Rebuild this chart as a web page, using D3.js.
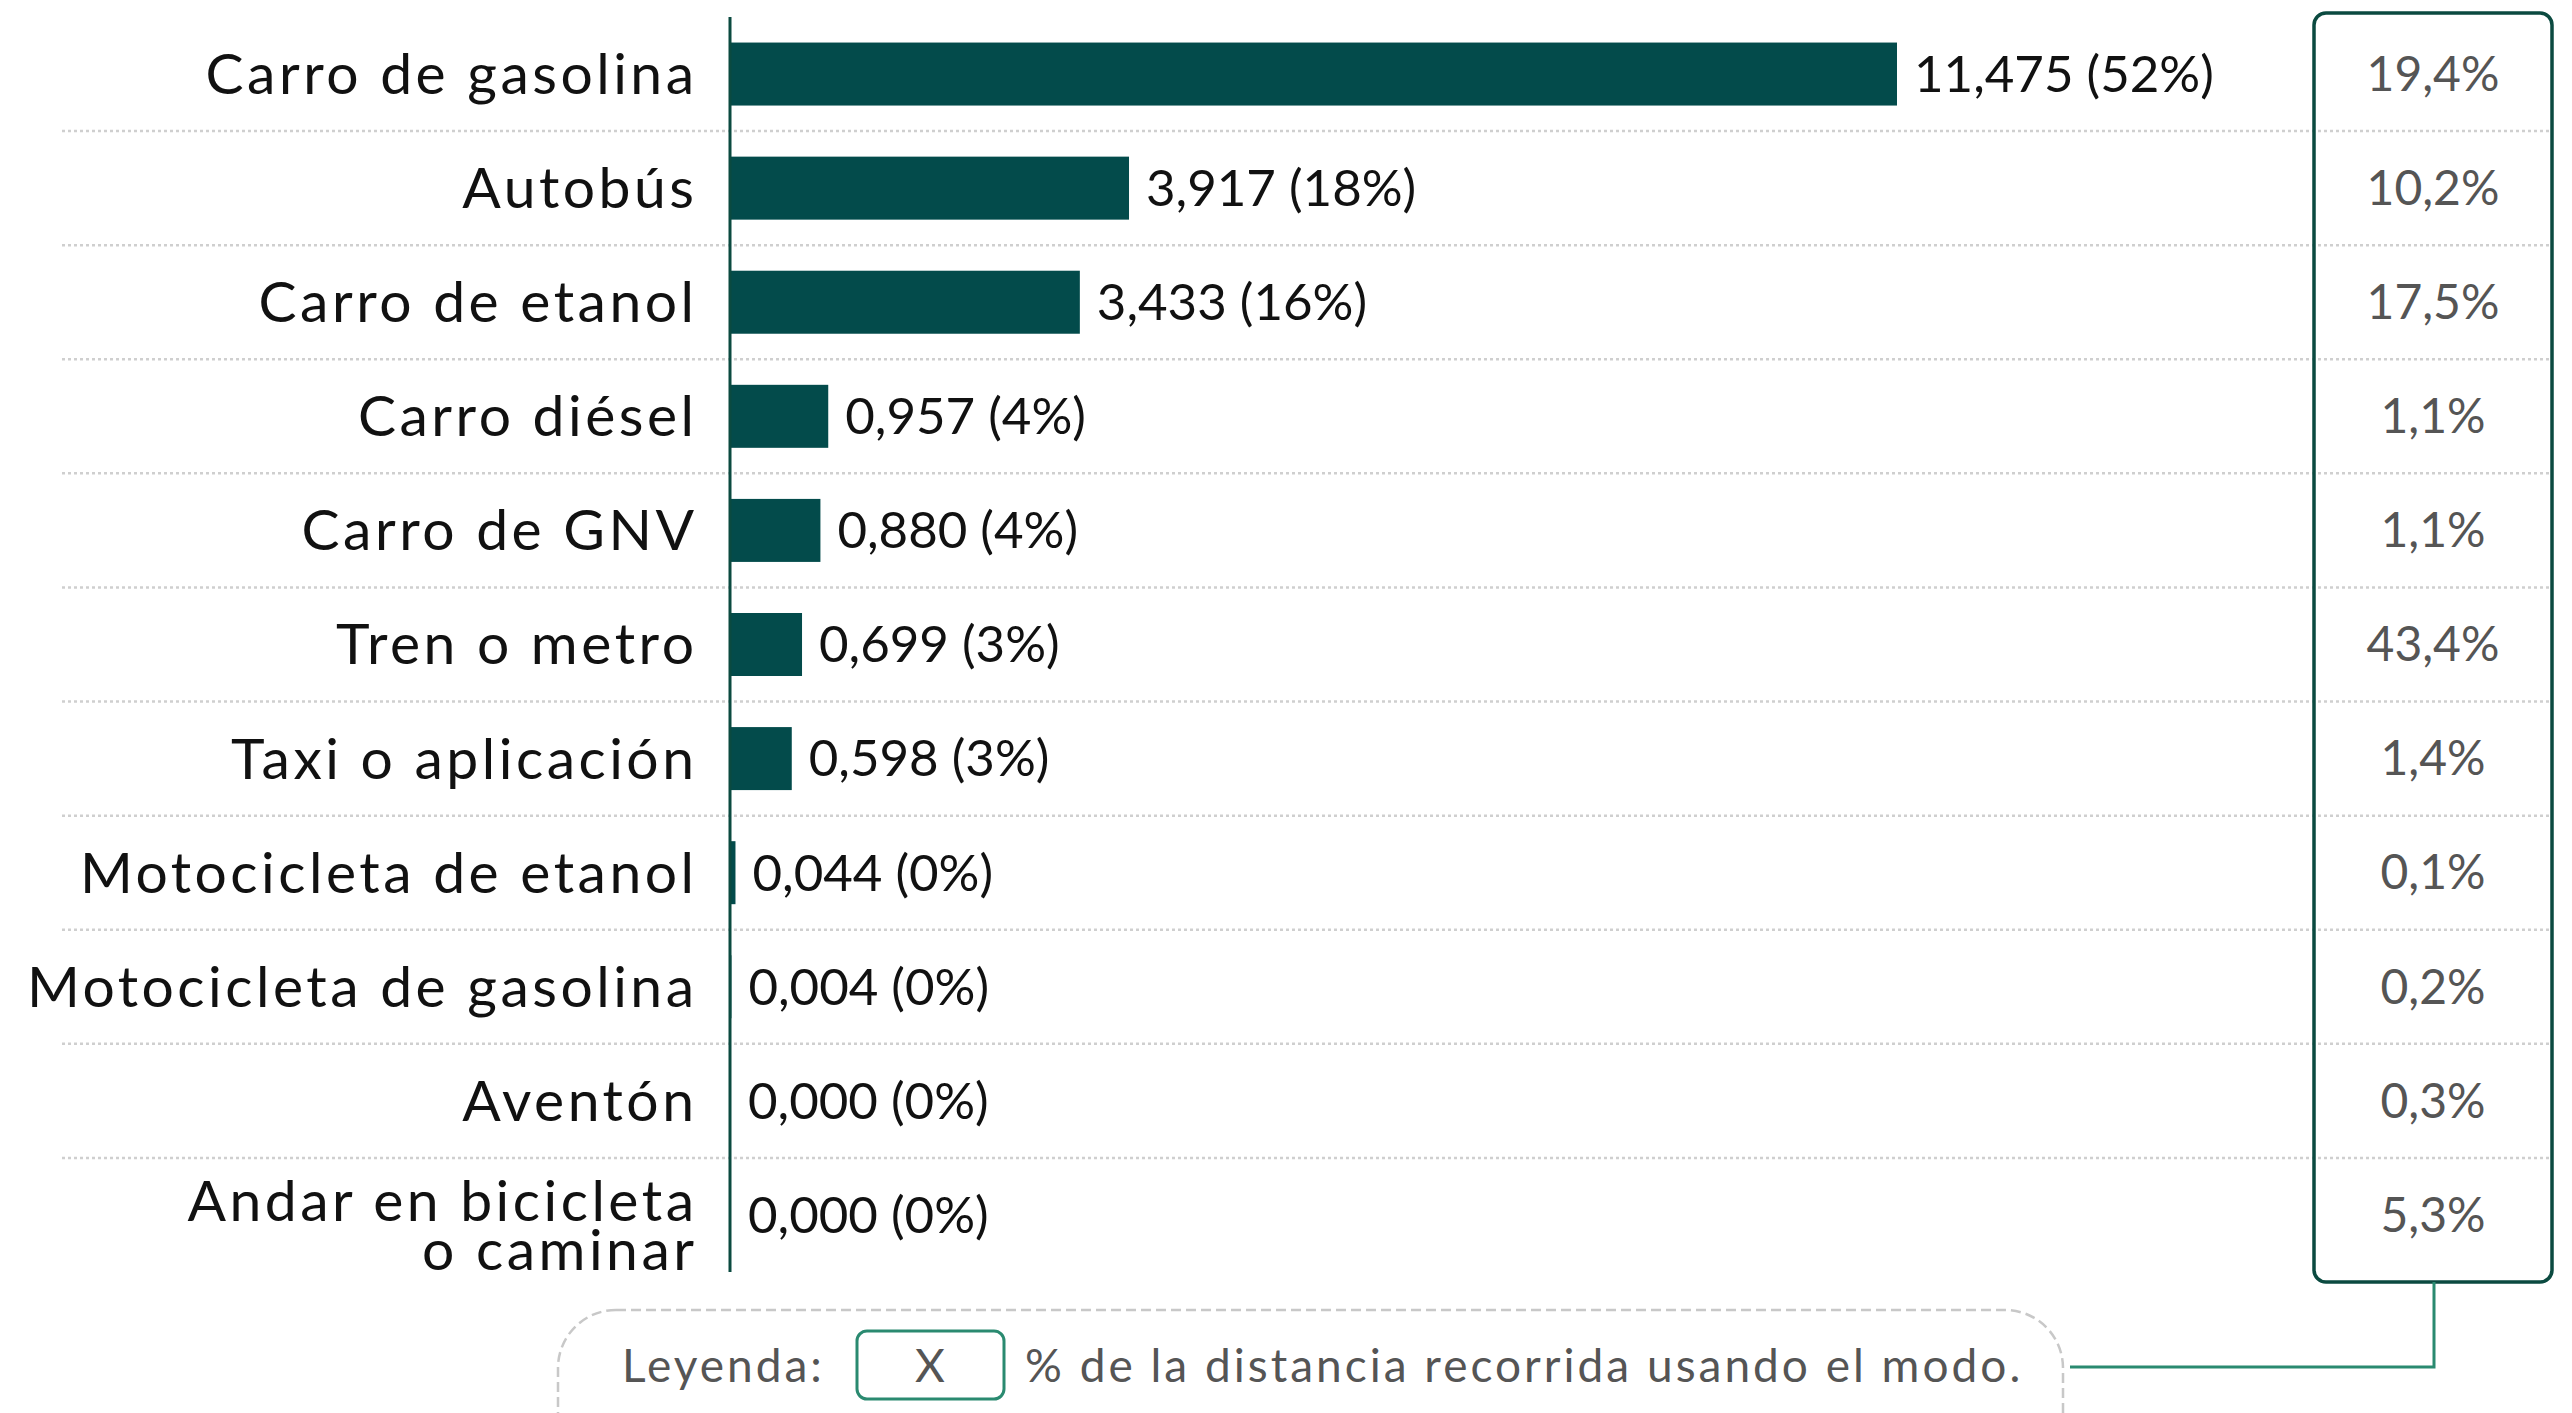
<!DOCTYPE html>
<html>
<head>
<meta charset="utf-8">
<script src="https://cdn.jsdelivr.net/npm/d3@7"></script>
<style>
  html, body { margin: 0; padding: 0; background: #fff; }
  svg { display: block; }
</style>
</head>
<body>
<svg id="chart" width="2572" height="1413"></svg>
<script>
const categories = ["Carro de gasolina", "Autobús", "Carro de etanol", "Carro diésel", "Carro de GNV",
  "Tren o metro", "Taxi o aplicación", "Motocicleta de etanol", "Motocicleta de gasolina", "Aventón",
  "Andar en bicicleta\no caminar"];
const values = [11.475, 3.917, 3.433, 0.957, 0.880, 0.699, 0.598, 0.044, 0.004, 0.000, 0.000];
const shares = [52, 18, 16, 4, 4, 3, 3, 0, 0, 0, 0];
const distanceShares = [19.4, 10.2, 17.5, 1.1, 1.1, 43.4, 1.4, 0.1, 0.2, 0.3, 5.3];
const legendLabel = "Leyenda:";
const legendKey = "X";
const legendText = "% de la distancia recorrida usando el modo.";

const locale = d3.formatLocale({decimal: ",", thousands: ".", grouping: [3], currency: ["", ""]});
const fmt3 = locale.format(".3f");
const fmt1 = locale.format(".1f");

const FONT = "Lato, 'Open Sans', sans-serif";
const svg = d3.select("#chart");
const data = categories.map((c, i) => ({cat: c, v: values[i], s: shares[i], d: distanceShares[i]}));

const axisX = 731;
const x = d3.scaleLinear().domain([0, 11.475]).range([axisX, 1897]);
const y = d3.scaleBand().domain(categories).range([17, 1272]).paddingInner(0).paddingOuter(0);
const barH = 63;

// separators
const seps = categories.slice(1);
svg.append("g").selectAll("line").data(seps).join("line")
  .attr("x1", 62).attr("x2", 2551)
  .attr("y1", d => y(d)).attr("y2", d => y(d))
  .attr("stroke", "#cfcfcf").attr("stroke-width", 2.5).attr("stroke-dasharray", "3,3");

// right box
const boxX0 = 2314, boxX1 = 2552, boxY0 = 13, boxY1 = 1282;
svg.append("rect").attr("x", boxX0).attr("y", boxY0)
  .attr("width", boxX1 - boxX0).attr("height", boxY1 - boxY0)
  .attr("rx", 12).attr("fill", "none").attr("stroke", "#0b4a40").attr("stroke-width", 3.5);

// bars
svg.append("g").selectAll("rect").data(data).join("rect")
  .attr("x", axisX)
  .attr("y", d => y(d.cat) + y.bandwidth() / 2 - barH / 2)
  .attr("width", d => x(d.v) - axisX)
  .attr("height", barH)
  .attr("fill", "#034b4b");

// axis line
svg.append("line").attr("x1", 730).attr("x2", 730).attr("y1", 17).attr("y2", 1272)
  .attr("stroke", "#0b4a40").attr("stroke-width", 3);

// category labels
const LS = 3.5;
const labX = 694 + LS;
const lab = svg.append("g").selectAll("text").data(data).join("text")
  .attr("text-anchor", "end")
  .attr("font-family", FONT).attr("font-size", 57).attr("letter-spacing", LS).attr("fill", "#111");
lab.each(function(d) {
  const lines = d.cat.split("\n");
  const t = d3.select(this);
  const cy = y(d.cat) + y.bandwidth() / 2;
  const offs = lines.length === 1 ? [0] : [-14, 35];
  lines.forEach((ln, i) => {
    t.append("tspan").attr("x", labX).attr("y", cy + offs[i]).attr("dy", "0.35em").text(ln);
  });
});

// value labels
svg.append("g").selectAll("text").data(data).join("text")
  .attr("x", d => x(d.v) + 17)
  .attr("y", d => y(d.cat) + y.bandwidth() / 2)
  .attr("dy", "0.35em")
  .attr("font-family", FONT).attr("font-size", 51).attr("fill", "#111")
  .text(d => `${fmt3(d.v)} (${d.s}%)`);

// distance shares
svg.append("g").selectAll("text").data(data).join("text")
  .attr("x", (boxX0 + boxX1) / 2)
  .attr("y", d => y(d.cat) + y.bandwidth() / 2)
  .attr("dy", "0.35em")
  .attr("text-anchor", "middle")
  .attr("font-family", FONT).attr("font-size", 48).attr("fill", "#555")
  .text(d => `${fmt1(d.d)}%`);

// legend pill
svg.append("rect").attr("x", 558).attr("y", 1310).attr("width", 2063 - 558).attr("height", 170)
  .attr("rx", 58).attr("fill", "none").attr("stroke", "#c8c8c8").attr("stroke-width", 2.5)
  .attr("stroke-dasharray", "10,5");

const legY = 1366;
svg.append("text").attr("x", 622).attr("y", legY).attr("dy", "0.35em")
  .attr("font-family", FONT).attr("font-size", 46).attr("letter-spacing", 3).attr("fill", "#555").text(legendLabel);
svg.append("rect").attr("x", 857).attr("y", 1331).attr("width", 147).attr("height", 68)
  .attr("rx", 10).attr("fill", "none").attr("stroke", "#2a8a70").attr("stroke-width", 3);
svg.append("text").attr("x", 930).attr("y", legY).attr("dy", "0.35em").attr("text-anchor", "middle")
  .attr("font-family", FONT).attr("font-size", 46).attr("fill", "#555").text(legendKey);
svg.append("text").attr("x", 1025).attr("y", legY).attr("dy", "0.35em")
  .attr("font-family", FONT).attr("font-size", 46).attr("letter-spacing", 3).attr("fill", "#555").text(legendText);

// connector
svg.append("path")
  .attr("d", `M2070,1367 H2434 V${boxY1}`)
  .attr("fill", "none").attr("stroke", "#2a8a70").attr("stroke-width", 3);
</script>
</body>
</html>
